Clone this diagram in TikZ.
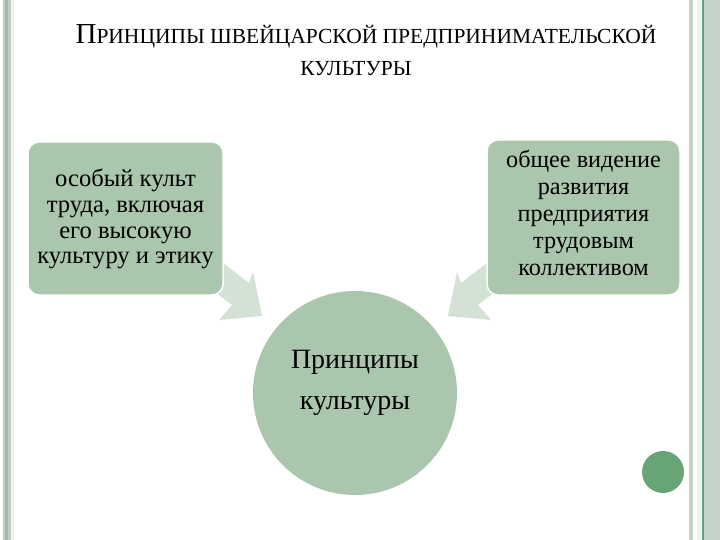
\documentclass[tikz,border=0pt]{standalone}
\usepackage{fontspec}
\setmainfont{Liberation Serif}
\begin{document}
\begin{tikzpicture}[x=1pt,y=-1pt,
  boxst/.style={fill=boxgreen,draw=white,line width=1.5pt,rounded corners=11pt},
  arrowst/.style={fill=arrowgreen,draw=none},
  txt/.style={align=center,text=black,inner sep=0pt},
]
\definecolor{boxgreen}{RGB}{170,198,172}
\definecolor{arrowgreen}{RGB}{211,226,213}
\definecolor{dotgreen}{RGB}{104,165,118}
\definecolor{bordA}{RGB}{190,206,195}
\definecolor{bordB}{RGB}{160,185,170}
\definecolor{bordC}{RGB}{232,246,238}
\definecolor{bordD}{RGB}{196,212,200}
\definecolor{bordE}{RGB}{100,158,125}
\useasboundingbox (0,0) rectangle (720,540);
\fill[white] (0,0) rectangle (720,540);
% left border
\fill[bordA] (3,0) rectangle (11,540);
\fill[bordB] (5,0) rectangle (8,540);
\fill[bordC] (11,0) rectangle (14,540);
% right border
\fill[bordD] (689,0) rectangle (693,540);
\fill[bordC] (697,0) rectangle (701,540);
\fill[bordE] (701.5,0) rectangle (703.5,540);
\fill[bordD] (704,0) rectangle (720,540);
% title
\node[txt,anchor=base] (title1) at (366,44) {{\fontsize{29}{29}\selectfont П}{\fontsize{21.5}{21.5}\selectfont РИНЦИПЫ ШВЕЙЦАРСКОЙ ПРЕДПРИНИМАТЕЛЬСКОЙ}};
\node[txt,anchor=base] (title2) at (356,76) {\fontsize{21.5}{21.5}\selectfont КУЛЬТУРЫ};
% arrows
\fill[arrowst] (209.5,252.5) -- (249,283) -- (253,272) -- (262,316) -- (219,320) -- (232,305) -- (192.5,274.5) -- cycle;
\fill[arrowst] (500.5,252.5) -- (461,283) -- (457,272) -- (448,316) -- (491,320) -- (478,305) -- (517.5,274.5) -- cycle;
% boxes
\draw[boxst] (28,142) rectangle (223,295);
\draw[boxst] (487,140) rectangle (680,295);
\node[txt,font=\fontsize{24.6}{25.7}\selectfont] (left) at (125.5,219) {особый культ\\труда, включая\\его высокую\\культуру и этику};
\node[txt,font=\fontsize{24.2}{27}\selectfont] (right) at (583.5,213) {общее видение\\развития\\предприятия\\трудовым\\коллективом};
% circle
\fill[boxgreen] (355,393) circle (102);
\node[txt,font=\fontsize{28}{41}\selectfont] (center) at (355,383) {Принципы\\культуры};
% small dot
\fill[dotgreen] (663,472) circle (21);
\end{tikzpicture}
\end{document}
